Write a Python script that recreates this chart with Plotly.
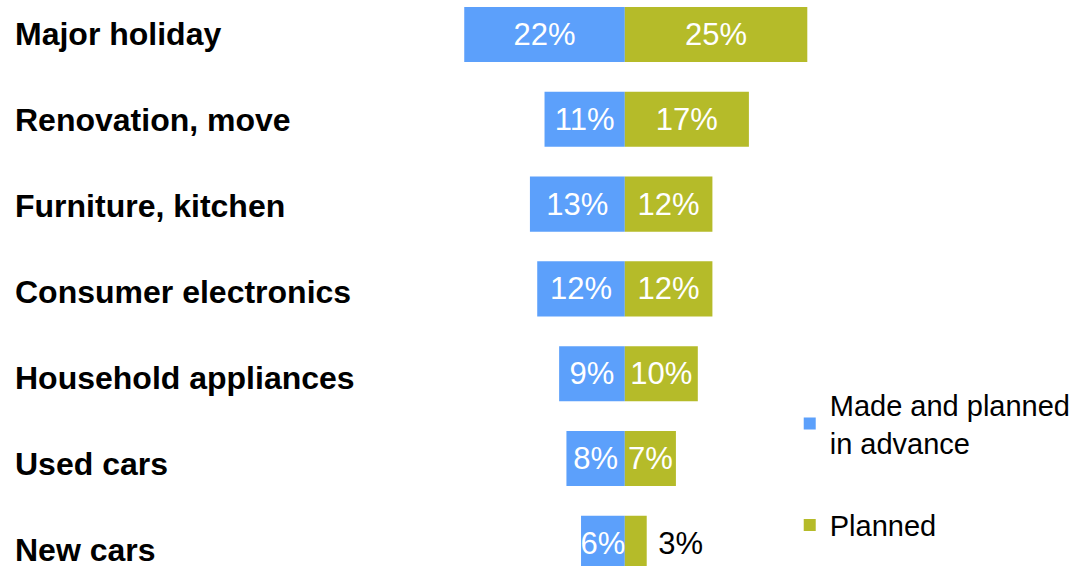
import plotly.graph_objects as go

categories = ["Major holiday", "Renovation, move", "Furniture, kitchen",
              "Consumer electronics", "Household appliances", "Used cars", "New cars"]
made_planned = [22, 11, 13, 12, 9, 8, 6]
planned = [25, 17, 12, 12, 10, 7, 3]
series_names = ["Made and planned<br>in advance", "Planned"]

BLUE = "#5CA0FB"
OLIVE = "#B5BB29"
FONT = "Liberation Sans, Arial, sans-serif"

fig = go.Figure()
fig.add_trace(go.Bar(
    y=categories, x=[-v for v in made_planned], orientation="h",
    name=series_names[0], marker=dict(color=BLUE, line=dict(width=0)),
    width=0.65, text=[f"{v}%" for v in made_planned],
    textposition="inside", insidetextanchor="middle", constraintext="none",
    textangle=0,
    insidetextfont=dict(color="white", size=31, family=FONT),
    legendgroup="a", hoverinfo="skip",
))
fig.add_trace(go.Bar(
    y=categories, x=planned, orientation="h",
    name=series_names[1], marker=dict(color=OLIVE, line=dict(width=0)),
    width=0.65, text=[f"{v}%" for v in planned[:-1]] + [f" {planned[-1]}%"],
    textposition=["inside"] * (len(planned) - 1) + ["outside"],
    insidetextanchor="middle", constraintext="none", textangle=0,
    insidetextfont=dict(color="white", size=31, family=FONT),
    outsidetextfont=dict(color="black", size=31, family=FONT),
    cliponaxis=False,
    legendgroup="b", hoverinfo="skip",
))

# category labels on a slightly differently spaced overlay axis
for i, c in enumerate(categories):
    fig.add_annotation(
        x=13 / 1073, xref="paper", y=i, yref="y2", text=f"<b>{c}</b>",
        showarrow=False, xanchor="left", yanchor="middle",
        font=dict(size=32, color="black", family=FONT),
    )

fig.update_layout(
    width=1073, height=566,
    margin=dict(l=0, r=0, t=0, b=0, autoexpand=False),
    paper_bgcolor="white", plot_bgcolor="white",
    barmode="relative",
    showlegend=True,
    legend=dict(
        x=0.736, y=0.33, xanchor="left", yanchor="top",
        font=dict(size=29, color="black", family=FONT),
        traceorder="grouped", tracegroupgap=42,
        bgcolor="rgba(0,0,0,0)",
        itemclick=False, itemdoubleclick=False,
    ),
    xaxis=dict(range=[-85.6, 61.4], visible=False, fixedrange=True),
    yaxis=dict(type="category", categoryorder="array", categoryarray=categories,
               range=[6.268, -0.407], visible=False, fixedrange=True),
    yaxis2=dict(type="linear", overlaying="y", range=[6.186, -0.395],
                visible=False, fixedrange=True),
)

fig.write_html("out.html", config={"displayModeBar": False},
               post_script="document.body.style.margin='0';")
